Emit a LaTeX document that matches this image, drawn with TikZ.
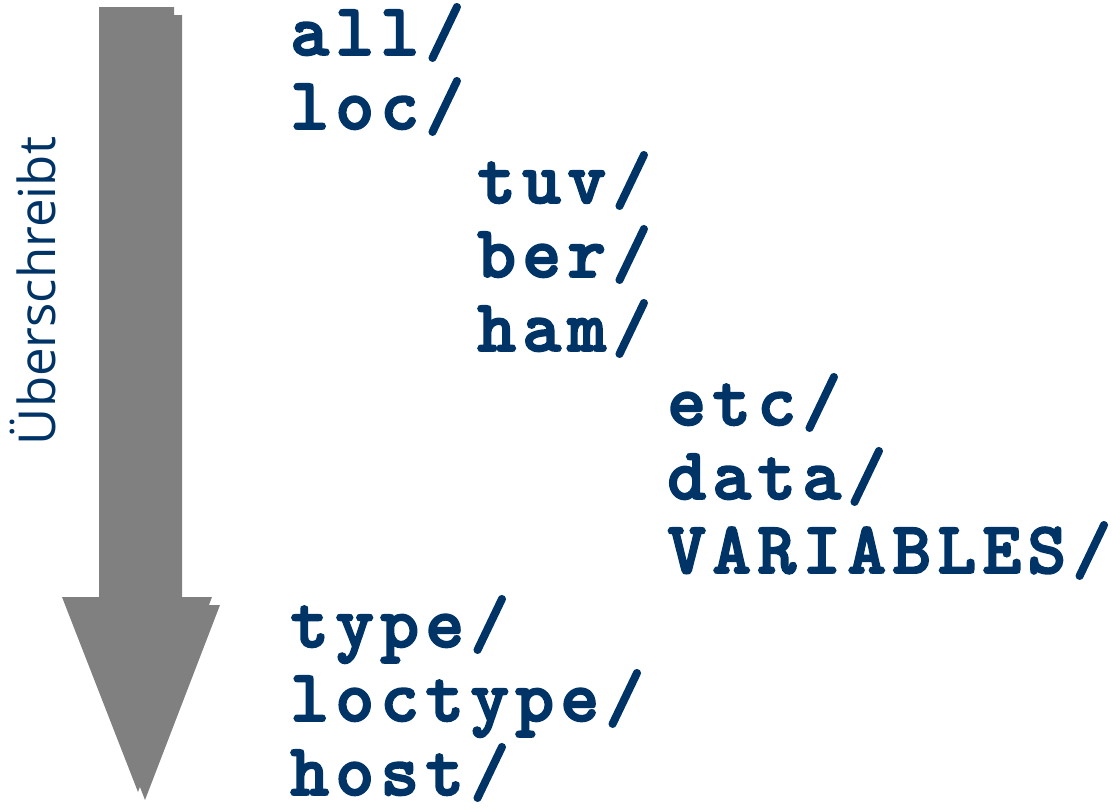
\documentclass[tikz,border=0pt]{standalone}
\usepackage{fontspec}
\usepackage{tikz}
\newfontfamily\dirfont{Latin Modern Mono Light}[LetterSpace=8.5,BoldFeatures={FakeBold=2.5}]
\newfontfamily\labelfont{Open Sans}
\definecolor{dirblue}{RGB}{0,51,102}
\definecolor{arrowgray}{RGB}{128,128,128}

\begin{document}
\begin{tikzpicture}[x=0.02cm,y=-0.02cm]
\tikzset{
    dirname/.style={anchor=base west,inner sep=0pt,text=dirblue,
        font=\dirfont\bfseries\fontsize{42}{42}\selectfont},
}
\useasboundingbox (0,0) rectangle (1112,808);
% Gray arrow (shadow first)
\fill[arrowgray]
    (107,15) -- (182,15) -- (182,605) -- (220,605) -- (145,800)
    -- (70,605) -- (107,605) -- cycle;
\fill[arrowgray]
    (99,7) -- (174,7) -- (174,597) -- (212,597) -- (138,792)
    -- (62,597) -- (99,597) -- cycle;
% Side label
\node
[
    rotate=90,
    anchor=base,
    inner sep=0pt,
    text=dirblue,
    font=\labelfont\fontsize{29}{29}\selectfont
] (label) at (55,291) {Überschreibt};
% Directory list
\node[dirname] (all) at (290,55) {all/};
\node[dirname] (loc) at (290,129) {loc/};
\node[dirname] (tuv) at (477,203) {tuv/};
\node[dirname] (ber) at (477,277) {ber/};
\node[dirname] (ham) at (477,351) {ham/};
\node[dirname] (etc) at (667,425) {etc/};
\node[dirname] (data) at (667,499) {data/};
\node[dirname] (vars) at (667,573) {VARIABLES/};
\node[dirname] (type) at (290,647) {type/};
\node[dirname] (loctype) at (290,721) {loctype/};
\node[dirname] (host) at (290,795) {host/};
\end{tikzpicture}
\end{document}
